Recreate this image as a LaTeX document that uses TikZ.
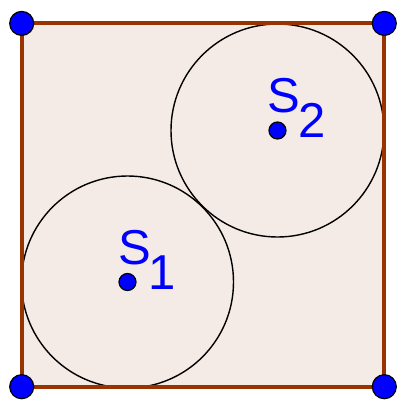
\documentclass[tikz,border=0pt]{standalone}
\usepackage{fontspec}
\setmainfont{Liberation Sans}
\usepackage{tikz}
\usetikzlibrary{positioning}
\definecolor{ggbbrown}{RGB}{153,51,0}
\definecolor{ggbfill}{RGB}{245,235,230}
\definecolor{ggbblue}{RGB}{0,0,255}

\begin{document}
\begin{tikzpicture}[
    x=1pt, y=-1pt,
    side/.style={draw=ggbbrown, line width=4pt, line join=miter},
    ring/.style={draw=black, line width=1.4pt},
    vertex/.style={circle, draw=black, line width=1.2pt, fill=ggbblue, minimum size=24pt, inner sep=0pt},
    centre/.style={circle, draw=black, line width=1.2pt, fill=ggbblue, minimum size=17pt, inner sep=0pt},
    lab/.style={text=ggbblue, inner sep=0pt, anchor=base west, font=\fontsize{49}{49}\selectfont}
]
\useasboundingbox (0,0) rectangle (397,400);
\coordinate (A) at (21.7,23.4);
\coordinate (B) at (384.3,23.4);
\coordinate (C) at (384.3,386.7);
\coordinate (D) at (21.7,386.7);
\coordinate (S1) at (127.5,282);
\coordinate (S2) at (277.5,130.5);

\fill[ggbfill] (A) -- (B) -- (C) -- (D) -- cycle;
\draw[ring] (S1) circle (106);
\draw[ring] (S2) circle (106.5);
\draw[side] (A) -- (B) -- (C) -- (D) -- cycle;

\node[vertex] (a) at (A) {};
\node[vertex] (b) at (B) {};
\node[vertex] (c) at (C) {};
\node[vertex] (d) at (D) {};
\node[centre] (s1) at (S1) {};
\node[centre] (s2) at (S2) {};

\node[lab] (l1) at (118.5,264) {S\kern-3pt\raisebox{-25pt}{1}};
\node[lab] (l2) at (267.5,112) {S\kern-2pt\raisebox{-25pt}{2}};
\end{tikzpicture}
\end{document}
